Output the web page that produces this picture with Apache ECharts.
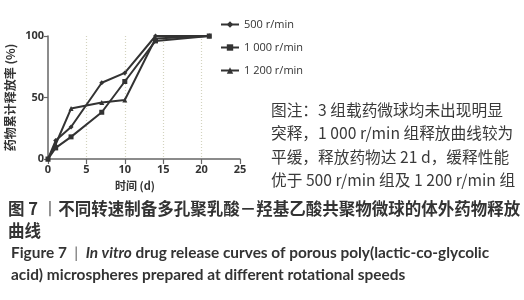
<!DOCTYPE html>
<html>
<head>
<meta charset="utf-8">
<script src="https://cdn.jsdelivr.net/npm/echarts@6/dist/echarts.min.js"></script>
<style>
html,body{margin:0;padding:0;background:#fff;}
#c{width:524px;height:300px;}
</style>
</head>
<body>
<div id="c"></div>
<script>
const days = [0, 1, 3, 7, 10, 14, 21];
const seriesNames = ['500 r/min', '1 000 r/min', '1 200 r/min'];
const r500 = [0, 15, 26, 62, 70, 100, 100];
const r1000 = [0, 9, 18, 38, 63, 96, 100];
const r1200 = [0, 12, 41, 46, 48, 98, 100];
const xTicks = [0, 5, 10, 15, 20, 25];
const yTicks = [0, 50, 100];
const xName = '时间 (d)';
const yName = '药物累计释放率 (%)';
const noteLines = [
  '图注：3 组载药微球均未出现明显',
  '突释，1 000 r/min 组释放曲线较为',
  '平缓，释放药物达 21 d，缓释性能',
  '优于 500 r/min 组及 1 200 r/min 组'
];
const capCn1 = ['图 7 ', '丨', '不同转速制备多孔聚乳酸－羟基乙酸共聚物微球的体外药物释放'];
const capCn2 = '曲线';
const capEn1 = ['Figure 7  ', '|', '  ', 'In vitro', ' drug release curves of porous poly(lactic-co-glycolic'];
const capEn2 = 'acid) microspheres prepared at different rotational speeds';

const allSeries = [r500, r1000, r1200];
const symbols = ['diamond', 'rect', 'triangle'];
const CJK = '"Noto Sans CJK SC", "Noto Sans", sans-serif';

const chart = echarts.init(document.getElementById('c'), null, {renderer: 'canvas'});

const graphics = [];
noteLines.forEach((t, i) => {
  graphics.push({type: 'text', left: 271, top: 102 + i * 23.5,
    style: {text: t, font: '15.7px ' + CJK, fill: '#3a3a3a'}});
});
graphics.push({type: 'text', left: 8, top: 200,
  style: {text: '{a|' + capCn1[0] + '}{b|' + capCn1[1] + '}{a|' + capCn1[2] + '}',
    rich: {a: {font: 'bold 16.5px ' + CJK, fill: '#333'}, b: {font: '16.5px ' + CJK, fill: '#666'}}}});
graphics.push({type: 'text', left: 8, top: 222,
  style: {text: capCn2, font: 'bold 16.5px ' + CJK, fill: '#333'}});
graphics.push({type: 'text', left: 11, top: 246,
  style: {text: '{a|' + capEn1[0] + '}{b|' + capEn1[1] + '}{a|' + capEn1[2] + '}{i|' + capEn1[3] + '}{a|' + capEn1[4] + '}',
    rich: {a: {font: 'bold 15.4px Lato, sans-serif', fill: '#333'},
           b: {font: '15.4px Lato, sans-serif', fill: '#666'},
           i: {font: 'italic bold 15.4px Lato, sans-serif', fill: '#333'}}}});
graphics.push({type: 'text', left: 11, top: 268,
  style: {text: capEn2, font: 'bold 15.4px Lato, sans-serif', fill: '#333'}});

chart.setOption({
  animation: false,
  grid: {left: 48, right: 284, top: 36, bottom: 141, containLabel: false},
  legend: {
    orient: 'vertical', left: 215, top: 14,
    itemWidth: 18, itemHeight: 8, itemGap: 12,
    data: seriesNames,
    textStyle: {fontSize: 11, color: '#333', fontFamily: '"Open Sans", sans-serif'}
  },
  xAxis: {
    type: 'value', min: 0, max: 25, interval: 5,
    name: xName, nameLocation: 'middle', nameGap: 21,
    nameTextStyle: {fontSize: 11, color: '#333', fontFamily: CJK, fontWeight: 'bold', padding: [0, 18, 0, 0]},
    axisLine: {lineStyle: {color: '#666', width: 1.5}},
    axisTick: {show: true, length: 5, lineStyle: {color: '#666', width: 1.2}},
    axisLabel: {fontSize: 11, color: '#333', fontWeight: 'bold', margin: 5, showMinLabel: true, showMaxLabel: true, hideOverlap: false, fontFamily: '"Open Sans", sans-serif'},
    splitLine: {show: true, showMinLine: false, showMaxLine: false, lineStyle: {type: [1, 2], color: '#d3d3bf', width: 1.2}}
  },
  yAxis: {
    type: 'value', min: 0, max: 100, interval: 50,
    name: yName, nameLocation: 'middle', nameGap: 32, nameRotate: 90,
    nameTextStyle: {fontSize: 12, color: '#333', fontFamily: CJK, fontWeight: 'bold'},
    axisLine: {show: true, lineStyle: {color: '#666', width: 1.5}},
    axisTick: {show: true, length: 4, lineStyle: {color: '#666', width: 1.2}},
    axisLabel: {fontSize: 11, color: '#333', fontWeight: 'bold', margin: 4, fontFamily: '"Open Sans", sans-serif'},
    splitLine: {show: false}
  },
  series: allSeries.map((vals, k) => ({
    name: seriesNames[k], type: 'line',
    data: days.map((d, i) => [d, vals[i]]),
    symbol: symbols[k], symbolSize: 5, showSymbol: true,
    lineStyle: {color: '#333', width: 2},
    itemStyle: {color: '#333'},
    z: 3
  })),
  graphic: graphics
});
</script>
</body>
</html>
